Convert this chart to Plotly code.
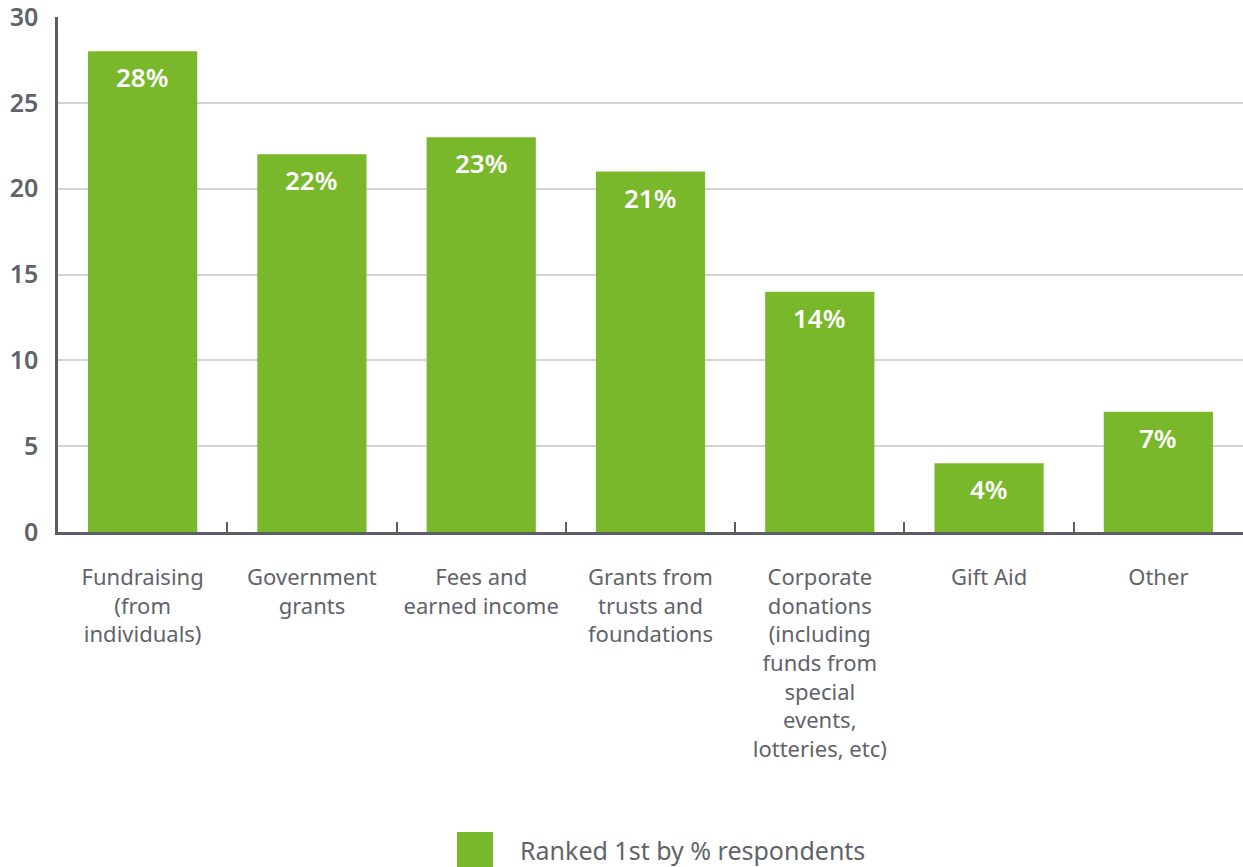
import plotly.graph_objects as go

categories = [
    "Fundraising<br>(from<br>individuals)",
    "Government<br>grants",
    "Fees and<br>earned income",
    "Grants from<br>trusts and<br>foundations",
    "Corporate<br>donations<br>(including<br>funds from<br>special<br>events,<br>lotteries, etc)",
    "Gift Aid",
    "Other",
]
values = [28, 22, 23, 21, 14, 4, 7]
labels = ["28%", "22%", "23%", "21%", "14%", "4%", "7%"]
series_name = "Ranked 1st by % respondents"
y_ticks = [0, 5, 10, 15, 20, 25, 30]

GREEN = "#78B82A"
AXIS = "#5B5E66"
TEXT = "#5F636A"
FONT = "Noto Sans"

fig = go.Figure()
fig.add_trace(go.Bar(
    x=categories, y=values, name=series_name,
    marker=dict(color=GREEN, line=dict(width=0)),
    width=0.645, showlegend=False, hoverinfo="skip",
))

for c, v, t in zip(categories, values, labels):
    fig.add_annotation(
        x=c, y=v, text=t, showarrow=False, yanchor="top", yshift=-6,
        font=dict(family=FONT, size=26, color="white", weight=600),
    )

# legend drawn manually (large square swatch)
fig.add_shape(type="rect", xref="paper", yref="paper",
              x0=0.3367, x1=0.3671, y0=-0.655, y1=-0.5825,
              fillcolor=GREEN, line=dict(width=0))
fig.add_annotation(xref="paper", yref="paper", x=0.3885, y=-0.6175,
                   xanchor="left", yanchor="middle", showarrow=False,
                   text=series_name,
                   font=dict(family=FONT, size=25, color=TEXT))

fig.update_layout(
    width=1243, height=867,
    margin=dict(l=58, r=0, t=17, b=335),
    paper_bgcolor="white", plot_bgcolor="white",
    font=dict(family=FONT, color=TEXT),
    bargap=0.355,
)
fig.update_xaxes(
    type="category", tickson="boundaries", ticks="inside", ticklen=10,
    tickwidth=2, tickcolor=AXIS, showline=True, linecolor=AXIS, linewidth=2.5,
    showgrid=False, tickfont=dict(family=FONT, size=22, color=TEXT),
    ticklabelstandoff=24,
)
fig.update_yaxes(
    range=[0, 30], tickvals=y_ticks, showgrid=True, gridcolor="#D3D3D3",
    gridwidth=1.5, showline=True, linecolor=AXIS, linewidth=2.5,
    zeroline=False, ticks="", ticklabelstandoff=12, ticklabeloverflow="allow",
    tickfont=dict(family=FONT, size=25, color=TEXT, weight=600),
)

fig.write_html("out.html")
